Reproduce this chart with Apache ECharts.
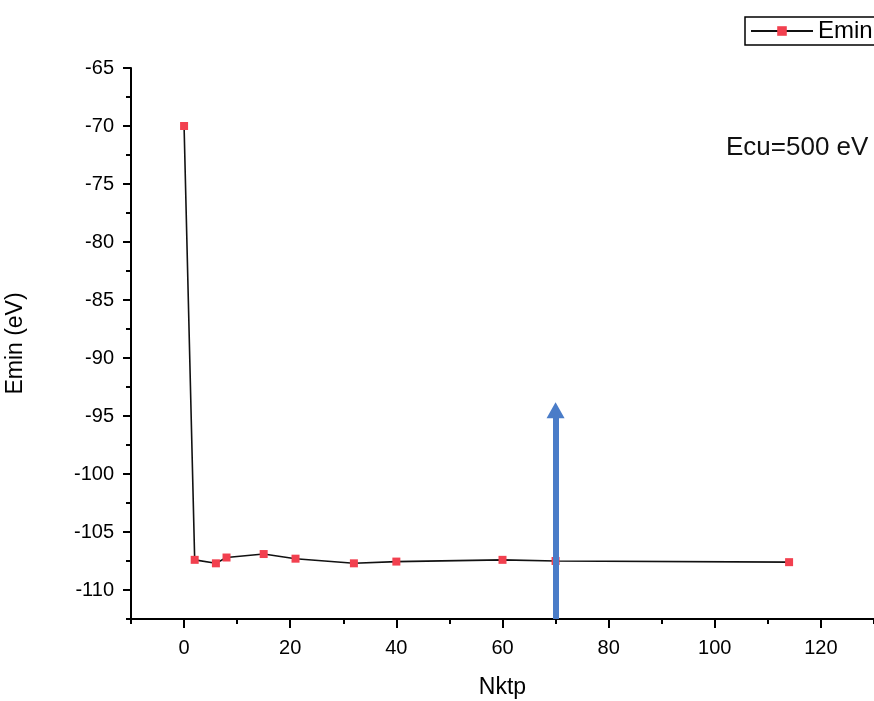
<!DOCTYPE html>
<html>
<head>
<meta charset="utf-8">
<script src="https://cdn.jsdelivr.net/npm/echarts@6/dist/echarts.min.js"></script>
<style>
  html, body { margin: 0; padding: 0; background: #fff; }
  #chart { width: 874px; height: 701px; }
</style>
</head>
<body>
<div id="chart"></div>
<script>
// Minimum energy versus number of k-points
const nktp = [0, 2, 6, 8, 15, 21, 32, 40, 60, 70, 114];
const emin = [-70.0, -107.4, -107.7, -107.2, -106.9, -107.3, -107.7, -107.55, -107.4, -107.5, -107.6];

// Tick positions
const xMajor = [0, 20, 40, 60, 80, 100, 120];
const xMinor = [-10, 10, 30, 50, 70, 90, 110, 130];
const yMajor = [-110, -105, -100, -95, -90, -85, -80, -75, -70, -65];
const yMinor = [-112.5, -107.5, -102.5, -97.5, -92.5, -87.5, -82.5, -77.5, -72.5, -67.5];

// Annotation arrow at Nktp = 70
const arrowX = 70;
const arrowFrom = -112.5;
const arrowTo = -94.5;

const FONT = 'Liberation Sans';
const X_MIN = -10, X_MAX = 130, Y_MIN = -112.5, Y_MAX = -65;

const chart = echarts.init(document.getElementById('chart'), null, { renderer: 'canvas' });

const axisLine = { show: true, onZero: false, lineStyle: { color: '#000', width: 2 } };
const labelStyle = { color: '#000', fontSize: 20, fontFamily: FONT };
const titleStyle = { color: '#000', fontSize: 23, fontFamily: FONT };

chart.setOption({
  backgroundColor: '#fff',
  animation: false,
  grid: { left: 131, right: 0, top: 68, bottom: 82, containLabel: false, outerBoundsMode: 'none' },
  legend: {
    left: 745, top: 17,
    padding: [2, 10, 2, 5],
    borderColor: '#000', borderWidth: 1.5, borderRadius: 0,
    itemWidth: 62, itemHeight: 12, itemGap: 8,
    textStyle: { color: '#000', fontSize: 24, fontFamily: FONT },
    data: ['Emin']
  },
  xAxis: [
    {
      type: 'value', min: X_MIN, max: X_MAX, position: 'bottom',
      name: 'Nktp', nameLocation: 'middle', nameGap: 57,
      nameTextStyle: titleStyle,
      axisLine: axisLine,
      axisTick: { show: true, length: 9, lineStyle: { color: '#000', width: 2 }, customValues: xMajor },
      axisLabel: Object.assign({ margin: 19, customValues: xMajor }, labelStyle),
      splitLine: { show: false }
    },
    {
      type: 'value', min: X_MIN, max: X_MAX, position: 'bottom', offset: 0,
      axisLine: { show: false, onZero: false },
      axisTick: { show: true, length: 5, lineStyle: { color: '#000', width: 2 }, customValues: xMinor },
      axisLabel: { show: false },
      splitLine: { show: false }
    }
  ],
  yAxis: [
    {
      type: 'value', min: Y_MIN, max: Y_MAX, position: 'left',
      name: 'Emin (eV)', nameLocation: 'middle', nameGap: 104,
      nameTextStyle: titleStyle,
      axisLine: axisLine,
      axisTick: { show: true, length: 8, lineStyle: { color: '#000', width: 2 }, customValues: yMajor },
      axisLabel: Object.assign({ margin: 17, customValues: yMajor }, labelStyle),
      splitLine: { show: false }
    },
    {
      type: 'value', min: Y_MIN, max: Y_MAX, position: 'left', offset: 0,
      axisLine: { show: false, onZero: false },
      axisTick: { show: true, length: 5, lineStyle: { color: '#000', width: 2 }, customValues: yMinor },
      axisLabel: { show: false },
      splitLine: { show: false }
    }
  ],
  graphic: [
    {
      type: 'text', left: 726, top: 135,
      style: { text: 'Ecu=500 eV', fill: '#111', font: '26px "Liberation Sans"' }
    }
  ],
  series: [
    {
      name: 'Emin',
      type: 'line',
      xAxisIndex: 0, yAxisIndex: 0,
      data: nktp.map((x, i) => [x, emin[i]]),
      symbol: 'rect', symbolSize: 8,
      itemStyle: { color: '#f2404f' },
      lineStyle: { color: '#111', width: 1.6 },
      markLine: {
        silent: true,
        symbol: ['none', 'triangle'],
        symbolSize: [18, 16],
        label: { show: false },
        lineStyle: { color: '#4a7cc8', width: 6, type: 'solid' },
        data: [[{ coord: [arrowX, arrowFrom] }, { coord: [arrowX, arrowTo] }]]
      }
    }
  ]
});
</script>
</body>
</html>
